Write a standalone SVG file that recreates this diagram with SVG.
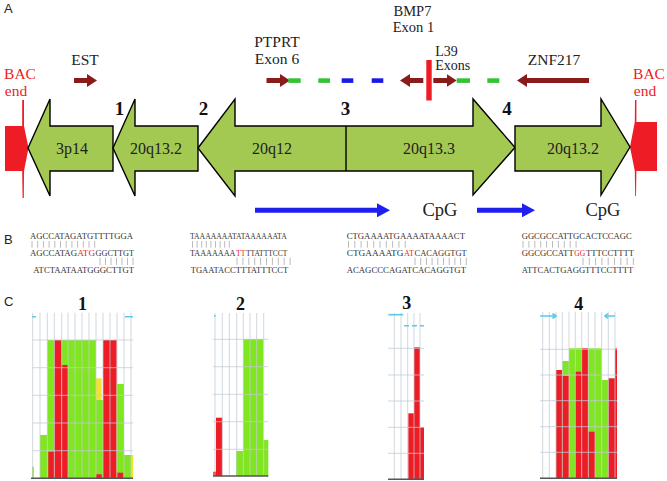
<svg xmlns="http://www.w3.org/2000/svg" width="667" height="481" viewBox="0 0 667 481">
<style>
.serif{font-family:"Liberation Serif","Times New Roman",serif;}
.sans{font-family:"Liberation Sans",Arial,sans-serif;}
.lbl{font-size:15.5px;fill:#222;text-anchor:middle;}
.red{fill:#ee1c25;}
.seg{fill:#a4c952;stroke:#000;stroke-width:1.4;stroke-linejoin:miter;}
.seglbl{font-size:16px;fill:#222;text-anchor:middle;}
.num{font-size:19px;font-weight:bold;fill:#111;text-anchor:middle;}
.ctitle{font-size:18px;font-weight:bold;fill:#111;text-anchor:middle;}
.dr{stroke:#8a1b1b;stroke-width:5;fill:none;}
.bl{stroke:#1f1fef;stroke-width:5;fill:none;}
.seq{font-size:8.5px;fill:#333;}
.mut{fill:#ee1c25;}
.bars{stroke:#aaa;stroke-width:0.8;fill:none;}
.grid{stroke:#c3cbd3;stroke-width:0.9;fill:none;opacity:0.85;}
.base{stroke:#555;stroke-width:1.4;}
.g{fill:#80e620;}
.r{fill:#ee1c25;}
.y{fill:#f2e42a;}
.cy{stroke:#5cc8ea;stroke-width:1.6;fill:none;}
.dg{fill:#33c433;}
.db{fill:#1a1ae6;}
</style>
<defs>
<marker id="hdr" markerUnits="userSpaceOnUse" markerWidth="11" markerHeight="13" refX="2" refY="6.5" orient="auto">
<path d="M0,0 L10,6.5 L0,13 Z" fill="#8a1b1b"/>
</marker>
<marker id="hbl" markerUnits="userSpaceOnUse" markerWidth="14" markerHeight="14" refX="2" refY="7" orient="auto">
<path d="M0,0 L13,7 L0,14 Z" fill="#1f1fef"/>
</marker>
</defs>
<rect width="667" height="481" fill="#fff"/>

<!-- Panel labels -->
<text class="sans" x="4" y="13" font-size="13" fill="#222">A</text>
<text class="sans" x="4" y="243.5" font-size="13" fill="#222">B</text>
<text class="sans" x="4" y="306" font-size="13" fill="#222">C</text>

<!-- BAC ends -->
<g id="bac-left">
<text class="serif lbl" x="20" y="78.5" style="fill:#ee1c25">BAC</text>
<text class="serif lbl" x="16" y="96" style="fill:#ee1c25">end</text>
<path class="red" d="M22.2,100 L24,100 L24,126 L28.5,148 L24,171 L23.8,198 L22.6,198 L22.2,171 L5,171 L5,126 L22.2,126 Z"/>
</g>
<g id="bac-right">
<text class="serif lbl" x="649" y="78.5" style="fill:#ee1c25">BAC</text>
<text class="serif lbl" x="645" y="96" style="fill:#ee1c25">end</text>
<path class="red" d="M635,100 L636.4,100 L636.4,122 L657,122 L657,171 L636.4,171 L636,196 L635.2,196 L634.8,171 L630,147 L634.8,122 Z"/>
</g>

<!-- Chromosome segments -->
<g id="seg-3p14">
<path class="seg" d="M28,148 L50,99 L50,126 L113,126 L113,171 L50,171 L50,196 Z"/>
<text class="serif seglbl" x="72" y="153.5">3p14</text>
</g>
<g id="seg-20q13.2-a">
<path class="seg" d="M113,148 L135,99 L135,126 L198,126 L198,171 L135,171 L135,196 Z"/>
<text class="serif seglbl" x="156" y="153.5">20q13.2</text>
</g>
<g id="seg-20q12-20q13.3">
<path class="seg" d="M198,148 L235,99 L235,126 L473,126 L473,99 L515,147.5 L473,195 L473,171 L235,171 L235,196 Z"/>
<line x1="346" y1="126" x2="346" y2="171" stroke="#000" stroke-width="1.4"/>
<text class="serif seglbl" x="272" y="153.5">20q12</text>
<text class="serif seglbl" x="429" y="153.5">20q13.3</text>
</g>
<g id="seg-20q13.2-b">
<path class="seg" d="M515,126 L601,126 L601,99 L630,147 L601,195 L601,171 L515,171 Z"/>
<text class="serif seglbl" x="573" y="153.5">20q13.2</text>
</g>

<!-- Breakpoint numbers -->
<g id="breakpoints">
<text class="serif num" x="119.5" y="115">1</text>
<text class="serif num" x="203.5" y="115">2</text>
<text class="serif num" x="345.5" y="115">3</text>
<text class="serif num" x="507" y="115">4</text>
</g>

<!-- Gene labels -->
<g id="gene-labels">
<text class="serif lbl" x="85" y="65.3">EST</text>
<text class="serif lbl" x="277" y="46.7">PTPRT</text>
<text class="serif lbl" x="277" y="64.3">Exon 6</text>
<text class="serif lbl" x="412.5" y="15.6" style="font-size:14.5px">BMP7</text>
<text class="serif lbl" x="413.5" y="32" style="font-size:14.5px">Exon 1</text>
<text class="serif lbl" x="435.3" y="55.8" style="text-anchor:start;font-size:14px">L39</text>
<text class="serif lbl" x="435.3" y="69.6" style="text-anchor:start;font-size:14px">Exons</text>
<text class="serif lbl" x="554" y="65">ZNF217</text>
</g>

<!-- Gene arrows and exon dashes -->
<g id="connectors">
<line class="dr" x1="74" y1="80.5" x2="89" y2="80.5" marker-end="url(#hdr)"/>
<line class="dr" x1="266.5" y1="80.5" x2="282" y2="80.5" marker-end="url(#hdr)"/>
<line class="dr" x1="423.3" y1="80.5" x2="408" y2="80.5" marker-end="url(#hdr)"/>
<line class="dr" x1="433.3" y1="80.5" x2="448.7" y2="80.5" marker-end="url(#hdr)"/>
<line class="dr" x1="589" y1="80.5" x2="525" y2="80.5" marker-end="url(#hdr)"/>
<rect class="dg" x="288.3" y="78.3" width="12.4" height="4.6"/>
<rect class="dg" x="318.3" y="78.3" width="11.7" height="4.6"/>
<rect class="db" x="341.7" y="78.3" width="11.6" height="4.6"/>
<rect class="db" x="371.7" y="78.3" width="11.6" height="4.6"/>
<rect class="dg" x="456.7" y="78.3" width="13.3" height="4.6"/>
<rect class="dg" x="487.3" y="78.3" width="12" height="4.6"/>
<rect class="red" x="426.3" y="60" width="5.4" height="40.5"/>
<line class="bl" x1="255" y1="210.3" x2="379" y2="210.3" marker-end="url(#hbl)"/>
<line class="bl" x1="477" y1="210.3" x2="524" y2="210.3" marker-end="url(#hbl)"/>
</g>
<g id="cpg-labels">
<text class="serif" x="440" y="216" font-size="18.5" fill="#222" text-anchor="middle">CpG</text>
<text class="serif" x="603" y="216" font-size="18.5" fill="#222" text-anchor="middle">CpG</text>
</g>

<!-- Panel B sequences -->
<g id="seq-1" class="serif">
<text class="seq" x="30" y="239" textLength="103" lengthAdjust="spacingAndGlyphs">AGCCATAGATGTTTTGGA</text>
<text class="seq" x="30" y="255.7" textLength="47" lengthAdjust="spacingAndGlyphs">AGCCATAG</text>
<text class="seq mut" x="77.2" y="255.7" textLength="18" lengthAdjust="spacingAndGlyphs">ATG</text>
<text class="seq" x="95.5" y="255.7" textLength="38.5" lengthAdjust="spacingAndGlyphs">GGCTTGT</text>
<text class="seq" x="33.3" y="273.3" textLength="100.7" lengthAdjust="spacingAndGlyphs">ATCTAATAATGGGCTTGT</text>
<path class="bars" d="M32,241v6.7M37.7,241v6.7M43.4,241v6.7M49.1,241v6.7M54.8,241v6.7M60.5,241v6.7M66.2,241v6.7M71.9,241v6.7M77.6,241v6.7M83.3,241v6.7M89,241v6.7M94.7,241v6.7M100,257.7v7.3M105.5,257.7v7.3M111,257.7v7.3M116.5,257.7v7.3M122,257.7v7.3M127.5,257.7v7.3M133,257.7v7.3"/>
</g>
<g id="seq-2" class="serif">
<text class="seq" x="190" y="239" textLength="96.7" lengthAdjust="spacingAndGlyphs">TAAAAAAATATAAAAAATA</text>
<text class="seq" x="190" y="255.7" textLength="45.5" lengthAdjust="spacingAndGlyphs">TAAAAAAA</text>
<text class="seq mut" x="236" y="255.7" textLength="9.5" lengthAdjust="spacingAndGlyphs">TT</text>
<text class="seq" x="246" y="255.7" textLength="41.3" lengthAdjust="spacingAndGlyphs">TTATTTCCT</text>
<text class="seq" x="190.7" y="273.3" textLength="97.6" lengthAdjust="spacingAndGlyphs">TGAATACCTTTATTTCCT</text>
<path class="bars" d="M192.5,241v6.7M197.1,241v6.7M201.7,241v6.7M206.3,241v6.7M210.9,241v6.7M215.5,241v6.7M220.1,241v6.7M224.7,241v6.7M229.3,241v6.7M237,257.7v7.3M242.9,257.7v7.3M248.8,257.7v7.3M254.7,257.7v7.3M260.6,257.7v7.3M266.5,257.7v7.3M272.4,257.7v7.3M278.3,257.7v7.3M284.2,257.7v7.3M290.1,257.7v7.3"/>
</g>
<g id="seq-3" class="serif">
<text class="seq" x="346.7" y="239" textLength="118.3" lengthAdjust="spacingAndGlyphs">CTGAAAATGAAAATAAAACT</text>
<text class="seq" x="346.7" y="255.7" textLength="56.8" lengthAdjust="spacingAndGlyphs">CTGAAAATG</text>
<text class="seq mut" x="404" y="255.7" textLength="10" lengthAdjust="spacingAndGlyphs">AT</text>
<text class="seq" x="414.5" y="255.7" textLength="52.2" lengthAdjust="spacingAndGlyphs">CACAGGTGT</text>
<text class="seq" x="346.7" y="273.3" textLength="119.3" lengthAdjust="spacingAndGlyphs">ACAGCCCAGATCACAGGTGT</text>
<path class="bars" d="M348.5,241v6.7M354.8,241v6.7M361.1,241v6.7M367.4,241v6.7M373.7,241v6.7M380,241v6.7M386.3,241v6.7M392.6,241v6.7M398.9,241v6.7M405.2,241v6.7M415,257.7v7.3M420.7,257.7v7.3M426.4,257.7v7.3M432.1,257.7v7.3M437.8,257.7v7.3M443.5,257.7v7.3M449.2,257.7v7.3M454.9,257.7v7.3M460.6,257.7v7.3M466.3,257.7v7.3"/>
</g>
<g id="seq-4" class="serif">
<text class="seq" x="521.7" y="239" textLength="110" lengthAdjust="spacingAndGlyphs">GGCGCCATTGCACTCCAGC</text>
<text class="seq" x="521.7" y="255.7" textLength="52" lengthAdjust="spacingAndGlyphs">GGCGCCATT</text>
<text class="seq mut" x="574.3" y="255.7" textLength="11" lengthAdjust="spacingAndGlyphs">GG</text>
<text class="seq" x="586" y="255.7" textLength="48" lengthAdjust="spacingAndGlyphs">TTTCCTTTT</text>
<text class="seq" x="521.7" y="273.3" textLength="111.6" lengthAdjust="spacingAndGlyphs">ATTCACTGAGGTTTCCTTTT</text>
<path class="bars" d="M523,241v6.7M528.9,241v6.7M534.8,241v6.7M540.7,241v6.7M546.6,241v6.7M552.5,241v6.7M558.4,241v6.7M564.3,241v6.7M570.2,241v6.7M576.1,241v6.7M583,257.7v7.3M589.3,257.7v7.3M595.6,257.7v7.3M601.9,257.7v7.3M608.2,257.7v7.3M614.5,257.7v7.3M620.8,257.7v7.3M627.1,257.7v7.3M633.4,257.7v7.3"/>
</g>

<!-- Panel C charts -->
<g id="chart-1">
<text class="serif ctitle" x="82.5" y="310">1</text>
<rect class="g" x="32" y="466.7" width="1.7" height="11.6"/>
<rect class="g" x="40" y="435" width="7.3" height="43.3"/>
<rect class="g" x="47.3" y="340" width="7" height="138.3"/>
<rect class="r" x="48.3" y="451.7" width="6" height="26.6"/>
<rect class="r" x="54.3" y="340" width="7.4" height="138.3"/>
<rect class="g" x="61.7" y="340" width="6.3" height="138.3"/>
<rect class="r" x="61.7" y="365" width="6.3" height="113.3"/>
<rect class="g" x="68" y="340" width="28" height="138.3"/>
<rect class="g" x="96" y="400" width="7" height="78.3"/>
<rect class="y" x="96" y="378.3" width="5.7" height="21.7"/>
<rect class="r" x="96" y="474.3" width="5.7" height="4"/>
<rect class="r" x="103" y="340" width="13.7" height="138.3"/>
<rect class="g" x="116.7" y="384" width="7.3" height="94.3"/>
<rect class="r" x="116.7" y="472.7" width="6.6" height="5.6"/>
<rect class="g" x="124" y="455" width="7" height="23.3"/>
<rect class="y" x="131" y="455" width="2.3" height="23.3"/>
<path class="grid" d="M32.7,312.7V478M40,312.7V478M47.3,312.7V478M54.3,312.7V478M61.7,312.7V478M68,312.7V478M75,312.7V478M82,312.7V478M89,312.7V478M96,312.7V478M103,312.7V478M110,312.7V478M117,312.7V478M124,312.7V478M131,312.7V478M32.7,340H133M32.7,367.7H133M32.7,395.3H133M32.7,423H133M32.7,450.7H133"/>
<line class="base" x1="31" y1="478.3" x2="133" y2="478.3"/>
<path class="cy" d="M32,316.7h4M125,316.7h8"/>
</g>
<g id="chart-2">
<text class="serif ctitle" x="240.5" y="310">2</text>
<rect class="r" x="213.3" y="471.7" width="2.7" height="4.3"/>
<rect class="r" x="216" y="417.7" width="6.3" height="58.3"/>
<rect class="g" x="236" y="451" width="7.3" height="25"/>
<rect class="g" x="243.3" y="339" width="20" height="137"/>
<rect class="g" x="263.3" y="440" width="5" height="36"/>
<path class="grid" d="M215,313V476M222.3,313V476M229.3,313V476M236.7,313V476M243.3,313V476M250,313V476M256.7,313V476M263.7,313V476M213,339.3H268.3M213,366.7H268.3M213,394.3H268.3M213,421.7H268.3M213,449.3H268.3"/>
<line class="base" x1="213" y1="476" x2="268.3" y2="476"/>
<path class="cy" d="M214,316h1.6"/>
</g>
<g id="chart-3">
<text class="serif ctitle" x="406.7" y="309.3">3</text>
<rect class="r" x="408.3" y="413.3" width="5.7" height="66"/>
<rect class="r" x="414" y="347.3" width="6" height="132"/>
<rect class="r" x="420" y="427.3" width="4" height="52"/>
<path class="grid" d="M394.3,313V479M401,313V479M407.7,313V479M414,313V479M420,313V479M388,348.3H424M388,375H424M388,401H424M388,427.3H424M388,453.3H424"/>
<line class="base" x1="388" y1="479.3" x2="424" y2="479.3"/>
<path class="cy" d="M388.3,314.7h15"/>
<path class="cy" d="M404,325.7h20" stroke-dasharray="5,3"/>
</g>
<g id="chart-4">
<text class="serif ctitle" x="578.7" y="310">4</text>
<rect class="r" x="556" y="370" width="6.3" height="108.3"/>
<rect class="g" x="562.3" y="361" width="6.7" height="117.3"/>
<rect class="r" x="562.3" y="376" width="6.7" height="102.3"/>
<rect class="g" x="569" y="348.3" width="6.3" height="130"/>
<rect class="g" x="575.3" y="348.3" width="6.4" height="130"/>
<rect class="r" x="575.3" y="371.7" width="6.4" height="106.6"/>
<rect class="r" x="581.7" y="348.3" width="6.6" height="130"/>
<rect class="g" x="588.3" y="348.3" width="6.7" height="130"/>
<rect class="r" x="588.3" y="431.7" width="6.7" height="46.6"/>
<rect class="g" x="595" y="348.3" width="6.7" height="130"/>
<rect class="g" x="601.7" y="380" width="6.6" height="98.3"/>
<rect class="r" x="608.3" y="378.3" width="6.7" height="100"/>
<rect class="r" x="615" y="348.3" width="2" height="130"/>
<path class="grid" d="M542.7,311.7V478M549.3,311.7V478M556,311.7V478M562.3,311.7V478M569,311.7V478M575.3,311.7V478M581.7,311.7V478M588.3,311.7V478M595,311.7V478M601.7,311.7V478M608.3,311.7V478M615,311.7V478M540,349.3H617M540,375H617M540,400.7H617M540,426.7H617M540,452.3H617"/>
<line class="base" x1="540" y1="478.3" x2="617" y2="478.3"/>
<path class="cy" d="M540,316h16M552.5,313.5l3.5,2.5l-3.5,2.5M605,316h10M608,313.5l-3,2.5l3,2.5"/>
</g>
</svg>
